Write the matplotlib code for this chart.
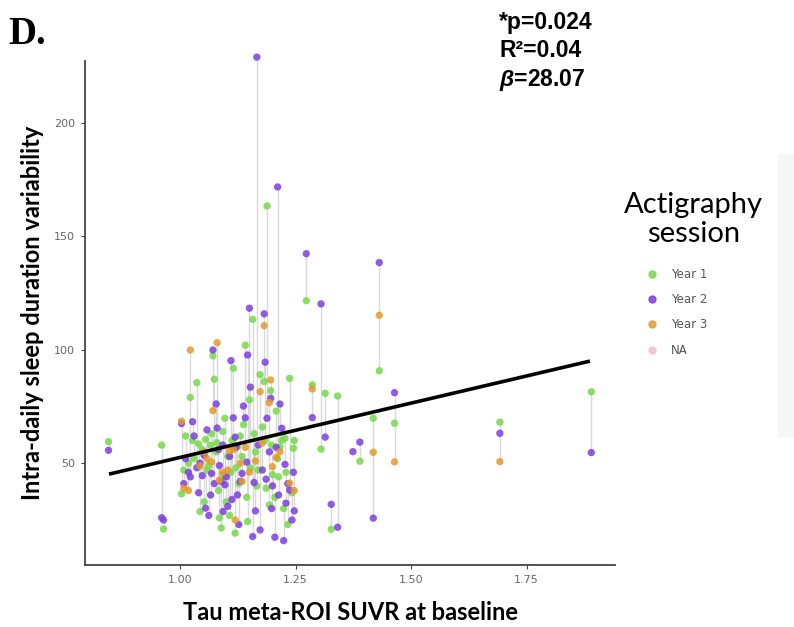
import matplotlib
matplotlib.use("Agg")
import matplotlib.pyplot as plt
from matplotlib.lines import Line2D
from matplotlib.patches import Rectangle

plt.rcParams["mathtext.fontset"] = "custom"
plt.rcParams["mathtext.it"] = "Liberation Sans:italic:bold"

# baseline tau SUVR per subject and sleep variability per actigraphy year (None = missing)
suvr = [0.845, 0.960, 0.964, 1.003, 1.008, 1.012, 1.018, 1.022, 1.027, 1.030,
        1.036, 1.040, 1.043, 1.048, 1.052, 1.055, 1.058, 1.062, 1.066, 1.068,
        1.071, 1.074, 1.078, 1.080, 1.083, 1.085, 1.089, 1.092, 1.093, 1.097,
        1.100, 1.103, 1.107, 1.110, 1.112, 1.115, 1.119, 1.121, 1.124, 1.127,
        1.130, 1.134, 1.137, 1.141, 1.144, 1.146, 1.150, 1.152, 1.157, 1.160,
        1.163, 1.166, 1.169, 1.173, 1.178, 1.182, 1.184, 1.186, 1.188, 1.193,
        1.196, 1.198, 1.200, 1.205, 1.208, 1.211, 1.213, 1.216, 1.220, 1.224,
        1.227, 1.229, 1.233, 1.237, 1.242, 1.245, 1.247, 1.273, 1.286, 1.305,
        1.314, 1.327, 1.341, 1.374, 1.389, 1.418, 1.431, 1.464, 1.692, 1.890]
year1 = [59.5, 58.0, 21.0, 36.5, 47.0, 62.0, 50.0, 79.0, 60.0, 52.0,
         85.5, 58.5, 28.7, 56.0, 33.0, 60.5, 47.0, 49.0, 58.0, 63.0,
         97.3, 87.0, 55.0, 59.0, 38.0, 25.9, 21.5, 64.0, 45.0, 69.8,
         33.0, 53.0, 27.0, 46.0, 60.0, 91.8, 19.2, 48.0, 57.5, 41.0,
         62.0, 53.0, 67.0, 102.0, 35.0, 24.3, 77.9, 48.0, 113.4, 63.0,
         55.0, 40.0, 47.0, 89.0, 66.0, 86.0, 60.0, 39.0, 163.3, 31.6,
         82.0, 58.0, 45.0, 35.0, 73.0, 52.0, 44.0, 57.0, 60.0, 30.0,
         61.0, 46.0, 23.0, 87.4, 37.0, 56.6, 60.0, 121.6, 84.5, 56.2,
         80.8, 20.9, 79.6, None, 50.9, 69.8, 90.7, 67.6, 68.1, 81.5]
year2 = [55.7, 26.0, 25.0, 67.5, 41.0, 52.0, 46.0, 44.0, 68.3, 62.0,
         48.0, 37.0, 50.0, 44.5, 53.5, 30.2, 64.7, 27.0, 36.0, 45.5,
         99.9, 41.0, 76.1, 65.5, 56.0, 49.0, 42.0, 58.0, 28.7, 40.5,
         44.0, 31.0, 53.0, 95.2, 34.0, 70.0, 61.5, 57.0, 36.0, 23.0,
         42.0, 45.5, 75.2, 70.0, 50.5, 97.7, 118.3, 83.5, 17.7, 41.5,
         29.0, 228.9, 58.0, 20.6, 47.0, 115.8, 94.5, 43.0, 69.8, 55.0,
         78.6, 30.0, 40.0, 17.4, 57.0, 171.7, 36.0, 76.1, 65.4, 15.9,
         49.5, 32.4, 41.0, 38.2, 25.0, 46.0, 29.0, 142.3, 70.1, 120.2,
         61.5, 31.9, 21.8, 55.1, 59.3, 25.8, 138.4, 81.1, 63.2, 54.7]
year3 = [None, None, None, 68.5, 39.0, None, 38.0, 99.9, None, None,
         None, None, 48.8, None, 55.0, None, 52.0, None, None, 50.5,
         73.2, None, None, 103.1, None, 42.6, None, 46.0, None, None,
         None, 47.0, 55.5, None, None, 56.0, 25.0, None, None, None,
         50.0, 42.0, None, 57.0, None, None, 46.0, None, None, None,
         51.0, None, None, 81.5, 59.0, 110.6, None, None, None, 76.7,
         86.7, None, 48.5, None, 52.5, None, None, 55.0, None, None,
         None, None, None, 41.2, None, None, 38.0, None, 82.7, None,
         None, None, None, None, None, 54.8, 115.2, 50.6, 50.7, None]

sessions = ["Year 1", "Year 2", "Year 3", "NA"]
session_colors = ["#77d94a", "#7d3fe0", "#e39a2c", "#f2bfcf"]

# fitted line
fit_x = [0.846, 1.887]
fit_y = [45.2, 95.0]

x_ticks = [1.00, 1.25, 1.50, 1.75]
y_ticks = [50, 100, 150, 200]

fig = plt.figure(figsize=(7.94, 6.27), dpi=100)
ax = fig.add_axes([0.107, 0.099, 0.668, 0.803])

# faint edge of the neighbouring panel
fig.patches.append(Rectangle((0.980, 0.305), 0.03, 0.45, transform=fig.transFigure,
                             color="#f6f6f6", zorder=0))

# grey lines joining repeated sessions of a subject
line_x, line_lo, line_hi = [], [], []
for i in range(len(suvr)):
    vals = [v for v in (year1[i], year2[i], year3[i]) if v is not None]
    if len(vals) > 1:
        line_x.append(suvr[i])
        line_lo.append(min(vals))
        line_hi.append(max(vals))
ax.vlines(line_x, line_lo, line_hi, color="#d9d9d9", lw=1.0, zorder=1)

for vals, col in zip([year1, year2, year3], session_colors):
    xs = [suvr[i] for i in range(len(suvr)) if vals[i] is not None]
    ys = [v for v in vals if v is not None]
    ax.scatter(xs, ys, s=28, color=col, alpha=0.85, edgecolors="none", zorder=3, clip_on=False)

ax.plot(fit_x, fit_y, color="black", lw=2.6, zorder=4, solid_capstyle="butt")

ax.set_xlim(0.794, 1.942)
ax.set_ylim(5.2, 227)
ax.set_xticks(x_ticks)
ax.set_xticklabels(["%.2f" % t for t in x_ticks])
ax.set_yticks(y_ticks)
for s in ["top", "right"]:
    ax.spines[s].set_visible(False)
for s in ["left", "bottom"]:
    ax.spines[s].set_color("#444444")
    ax.spines[s].set_linewidth(1.3)
ax.tick_params(colors="#444444", labelcolor="#666666", labelsize=8, length=3, width=0.8, pad=4)

ax.set_xlabel("Tau meta-ROI SUVR at baseline", family="Lato", weight="bold", fontsize=17, labelpad=12)
ax.set_ylabel("Intra-daily sleep duration variability", family="Lato", weight="bold", fontsize=17, labelpad=7)

fig.text(0.010, 0.975, "D.", family="Liberation Serif", weight="bold", fontsize=28, va="top")
fig.text(0.629, 0.983, "*p=0.024", family="Liberation Sans", weight="bold", fontsize=16.5, va="top")
fig.text(0.629, 0.938, "R²=0.04", family="Liberation Sans", weight="bold", fontsize=16.5, va="top")
fig.text(0.629, 0.893, r"$\beta$=28.07", family="Liberation Sans", weight="bold", fontsize=16.5, va="top")

# legend
fig.text(0.873, 0.650, "Actigraphy\nsession", family="Lato", fontsize=21, ha="center", va="center",
         linespacing=1.15)
handles = [Line2D([], [], marker="o", ls="", color=c, markersize=5, alpha=0.85) for c in session_colors]
leg = fig.legend(handles, sessions, loc="upper left", bbox_to_anchor=(0.799, 0.590), frameon=False,
                 fontsize=8.5, labelspacing=1.05, handletextpad=1.0, handlelength=1.2)
for t in leg.get_texts():
    t.set_color("#555555")

fig.savefig("out.png", dpi=100)
